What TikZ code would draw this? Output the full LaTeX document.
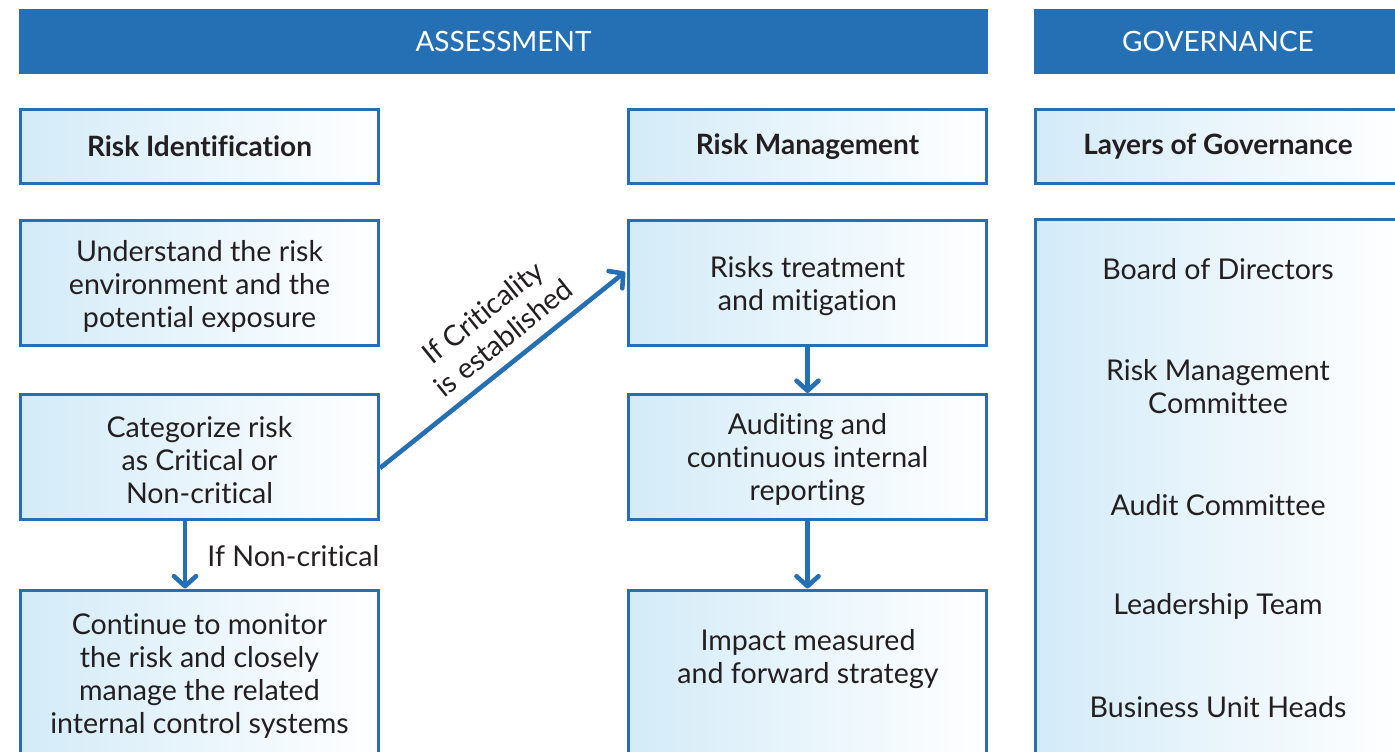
\documentclass[tikz,border=0pt]{standalone}
\usepackage{fontspec}
\setmainfont[Ligatures={NoCommon,NoContextual,NoRare}]{Lato}
\usetikzlibrary{arrows.meta}
\definecolor{brand}{HTML}{2570B5}
\definecolor{ink}{HTML}{231F20}
\definecolor{pale}{HTML}{D3EBF8}
\begin{document}
\begin{tikzpicture}[x=0.5pt,y=-0.5pt,
  banner/.style={fill=brand,text=white,inner sep=0pt,minimum height=32.5pt,font=\fontsize{14}{16}\selectfont},
  box/.style={draw=brand,line width=1.5pt,left color=pale,right color=white,inner sep=0pt,text=ink,align=center,font=\fontsize{14.3}{16.5}\selectfont},
  hdr/.style={box,minimum height=37pt,font=\fontsize{14}{16.5}\selectfont\bfseries},
  txt/.style={text=ink,align=center,inner sep=0pt,font=\fontsize{14.3}{16.5}\selectfont},
  flow/.style={draw=brand,line width=2.3pt,-{Straight Barb[length=5pt,width=11pt,line cap=round,line join=round]}}]
\clip (0,0) rectangle (1395,751);
% banners
\node[banner,minimum width=484.5pt] (ass) at (503.5,41.5) {ASSESSMENT};
\node[banner,minimum width=184pt] (gov) at (1218,41.5) {GOVERNANCE};
% headers
\node[hdr,minimum width=179pt] (rid) at (199.5,146.5) {Risk Identification};
\node[hdr,minimum width=179pt] (rmg) at (807.5,146.5) {Risk Management};
\node[hdr,minimum width=182.5pt] (log) at (1218,146.5) {Layers of Governance};
% left column
\node[box,minimum width=179pt,minimum height=62.5pt] (und) at (199.5,283) {};
\node[txt] (undt) at (199.5,286) {Understand the risk\\environment and the\\potential exposure};
\node[box,minimum width=179pt,minimum height=62.5pt] (cat) at (199.5,457) {};
\node[txt] (catt) at (199.5,460) {Categorize risk\\as Critical or\\Non-critical};
\node[box,minimum width=179pt,minimum height=100pt] (mon) at (199.5,690) {};
\node[txt] (mont) at (199.5,676) {Continue to monitor\\the risk and closely\\manage the related\\internal control systems};
% middle column
\node[box,minimum width=179pt,minimum height=62.5pt] (trt) at (807.5,283) {};
\node[txt] (trtt) at (807.5,286) {Risks treatment\\and mitigation};
\node[box,minimum width=179pt,minimum height=62.5pt] (aud) at (807.5,457) {};
\node[txt] (audt) at (807.5,460) {Auditing and\\continuous internal\\reporting};
\node[box,minimum width=179pt,minimum height=100pt] (imp) at (807.5,690) {};
\node[txt] (impt) at (808,659) {Impact measured\\and forward strategy};
% governance column
\node[box,minimum width=182.5pt,minimum height=290pt] (gbx) at (1218,509) {};
\node[txt] (g1) at (1218,269) {Board of Directors};
\node[txt] (g2) at (1218,387) {Risk Management\\Committee};
\node[txt] (g3) at (1218,505) {Audit Committee};
\node[txt] (g4) at (1218,606) {Leadership Team};
\node[txt] (g5) at (1218,707) {Business Unit Heads};
% connectors
\draw[flow] ([yshift=-5.5pt]cat.east) -- ([yshift=5.5pt,xshift=-1pt]trt.west);
\node[txt,rotate=38.8] (lc) at (493,325) {If Criticality\\is established};
\draw[flow] (cat.south -| 185,0) -- (mon.north -| 185,0);
\node[txt,anchor=west] (lnc) at (207,556) {If Non-critical};
\draw[flow] (trt.south) -- (aud.north);
\draw[flow] (aud.south) -- (imp.north);
\end{tikzpicture}
\end{document}
